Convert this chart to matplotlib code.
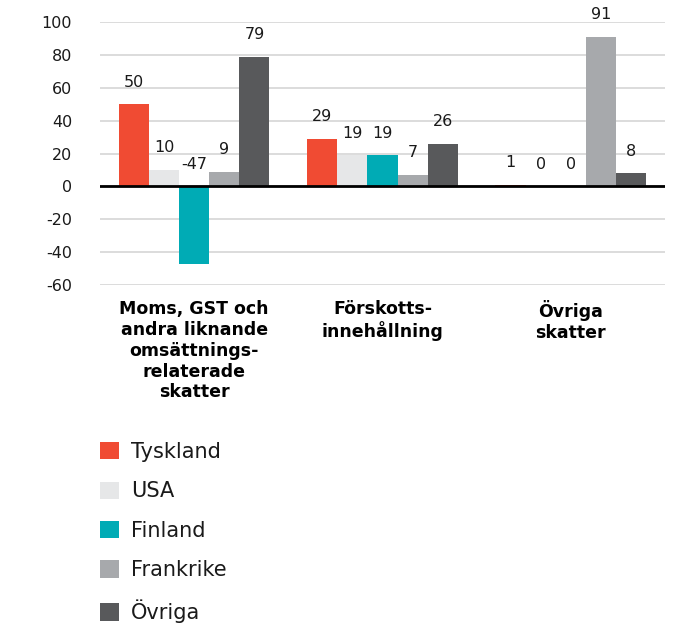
import numpy as np
import matplotlib
matplotlib.use("Agg")
from matplotlib import pyplot as plt
from matplotlib.patches import Patch

categories = ["Moms, GST och\nandra liknande\nomsättnings-\nrelaterade\nskatter",
              "Förskotts-\ninnehållning",
              "Övriga\nskatter"]
series_names = ["Tyskland", "USA", "Finland", "Frankrike", "Övriga"]
tyskland = [50, 29, 1]
usa = [10, 19, 0]
finland = [-47, 19, 0]
frankrike = [9, 7, 91]
ovriga = [79, 26, 8]
values = [tyskland, usa, finland, frankrike, ovriga]
colors = ["#F04B33", "#E6E7E8", "#00ABB5", "#A7A9AC", "#58595B"]

plt.rcParams['font.family'] = ['DejaVu Sans']
plt.rcParams['axes.unicode_minus'] = False

fig = plt.figure(figsize=(6.74, 6.29), dpi=100)
ax = fig.add_axes([100/674, 1-285/629, 565/674, 263/629])

x = np.arange(len(categories))
w = 0.16
for i, (vals, c) in enumerate(zip(values, colors)):
    pos = x + (i - 2) * w
    ax.bar(pos, vals, width=w, color=c, zorder=3)
    for p, v in zip(pos, vals):
        ax.annotate(str(v), (p, max(v, 0)), xytext=(0, 22), textcoords='offset pixels',
                    ha='center', va='center', fontsize=11.5, color='#1a1a1a')

ax.set_xlim(-0.5, 2.5)
ax.set_ylim(-60, 100)
ax.set_yticks(range(-60, 101, 20))
ax.yaxis.grid(True, color='#D9D9D9', linewidth=1.3, zorder=0)
ax.axhline(0, color='black', linewidth=2, zorder=4)
for s in ax.spines.values():
    s.set_visible(False)
ax.tick_params(axis='y', length=0, pad=20, labelsize=11.5, labelcolor='#1a1a1a')
ax.set_xticks(x)
ax.set_xticklabels(categories, fontweight='bold', fontsize=12.5, linespacing=1.2)
ax.tick_params(axis='x', length=0, pad=11)

handles = [Patch(facecolor=c, edgecolor='none') for c in colors]
fig.legend(handles, series_names, loc='upper left', bbox_to_anchor=(100/674, 1-442/629),
           frameon=False, fontsize=15, handlelength=0.9, handleheight=0.9,
           handletextpad=0.6, labelspacing=0.93, borderpad=0, borderaxespad=0,
           labelcolor='#1a1a1a')

fig.savefig("out.png", dpi=100)
